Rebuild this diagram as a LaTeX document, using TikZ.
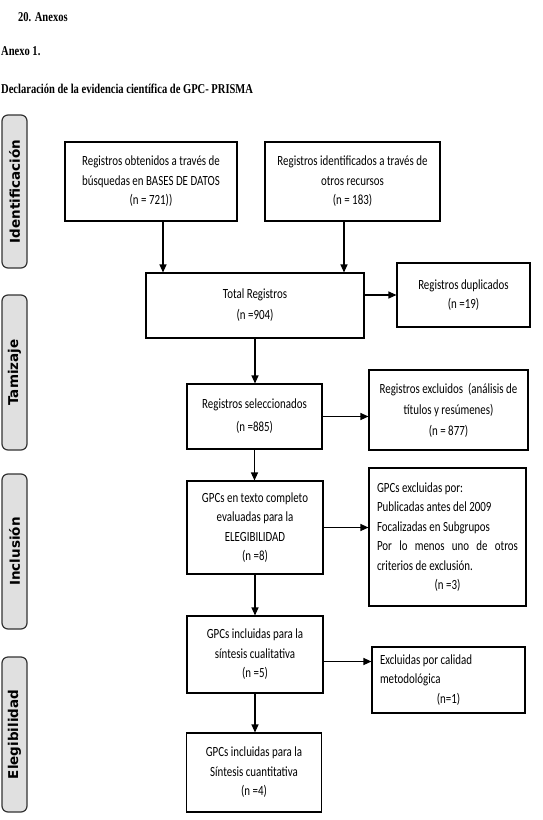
\documentclass[tikz,border=0pt]{standalone}
\usepackage{fontspec}
\setmainfont{Carlito}[FakeStretch=0.78]
\newfontfamily\titlefont{Liberation Serif}[FakeStretch=0.78]
\newfontfamily\sidefont{DejaVu Sans}
\usetikzlibrary{arrows.meta}
\newcommand{\sidelabel}[1]{\rotatebox{90}{\sidefont\bfseries\fontsize{13.5}{14}\selectfont #1}}
\begin{document}
\begin{tikzpicture}[x=1pt,y=-1pt,
  box/.style={draw=black, line width=1.1pt, align=center, inner sep=0pt,
    font=\fontsize{14}{19.5}\selectfont},
  leftbox/.style={box, align=flush left},
  side/.style={draw=black!80, fill=black!12, rounded corners=6pt, line width=1.2pt,
    minimum width=25pt, inner sep=0pt},
  ttl/.style={anchor=base west, inner sep=0pt, font=\titlefont\bfseries\fontsize{13.5}{14}\selectfont},
  arr/.style={-{Triangle[length=8pt,width=7pt]}, line width=1.1pt}]
\useasboundingbox (0,0) rectangle (542,820);

% titles
\node[ttl] (t1) at (18,21) {20. Anexos};
\node[ttl] (t2) at (1,55) {Anexo 1.};
\node[ttl] (t3) at (1,93) {Declaración de la evidencia científica de GPC- PRISMA};

% side bars
\node[side, minimum height=153pt] (s1) at (14.5,191.5) {\sidelabel{Identificación}};
\node[side, minimum height=155pt] (s2) at (14.5,372.5) {\sidelabel{Tamizaje}};
\node[side, minimum height=155pt] (s3) at (14.5,551.5) {\sidelabel{Inclusión}};
\node[side, minimum height=155pt] (s4) at (14.5,734.5) {\sidelabel{Elegibilidad}};

% boxes
\node[box, minimum width=172pt, minimum height=79pt] (b1) at (151,181.5)
  {Registros obtenidos a través de\\búsquedas en BASES DE DATOS\\(n = 721))};
\node[box, minimum width=175pt, minimum height=79pt] (b2) at (352.5,181.5)
  {Registros identificados a través de\\otros recursos\\(n = 183)};
\node[box, minimum width=218pt, minimum height=65pt,
  font=\fontsize{14}{21}\selectfont] (tot) at (255,305.5)
  {Total Registros\\(n =904)};
\node[box, minimum width=133pt, minimum height=64pt] (dup) at (463.5,295)
  {Registros duplicados\\(n =19)};
\node[box, minimum width=135pt, minimum height=65pt,
  font=\fontsize{14}{23}\selectfont] (sel) at (254.5,416.5)
  {Registros seleccionados\\(n =885)};
\node[box, minimum width=159pt, minimum height=80pt,
  font=\fontsize{14}{21}\selectfont] (exc) at (448.5,410)
  {Registros excluidos~ (análisis de\\títulos y resúmenes)\\(n = 877)};
\node[box, minimum width=136pt, minimum height=93pt] (full) at (255,527.5)
  {GPCs en texto completo\\evaluadas para la\\ELEGIBILIDAD\\(n =8)};
\node[leftbox, minimum width=157pt, minimum height=138pt,
  text width=141pt] (exg) at (447.5,537)
  {GPCs excluidas por:\\Publicadas antes del 2009\\Focalizadas en Subgrupos\\
   \makebox[\linewidth][s]{Por lo menos uno de otros}\\criterios de exclusión.\\
   \makebox[\linewidth][c]{(n =3)}};
\node[box, minimum width=136pt, minimum height=77pt] (cual) at (255,654.5)
  {GPCs incluidas para la\\síntesis cualitativa\\(n =5)};
\node[leftbox, minimum width=153pt, minimum height=66pt,
  text width=137pt] (cal) at (448.5,680)
  {Excluidas por calidad\\metodológica\\\makebox[\linewidth][c]{(n=1)}};
\node[box, minimum width=135pt, minimum height=79pt] (cuan) at (254,772.5)
  {GPCs incluidas para la\\Síntesis cuantitativa\\(n =4)};

% arrows
\draw[arr] ([xshift=12pt]b1.south) -- ([xshift=12pt]b1.south |- tot.north);
\draw[arr] ([xshift=-8.5pt]b2.south) -- ([xshift=-8.5pt]b2.south |- tot.north);
\draw[arr] (tot.east |- dup.west) -- (dup.west);
\draw[arr] (tot.south) -- (tot.south |- sel.north);
\draw[arr] (sel.east) -- (sel.east -| exc.west);
\draw[arr] (sel.south) -- (sel.south |- full.north);
\draw[arr] (full.east) -- (full.east -| exg.west);
\draw[arr] (full.south) -- (full.south |- cual.north);
\draw[arr] ([yshift=-7pt]cual.east) -- ([yshift=-7pt]cual.east -| cal.west);
\draw[arr] (cual.south) -- (cual.south |- cuan.north);
\end{tikzpicture}
\end{document}
